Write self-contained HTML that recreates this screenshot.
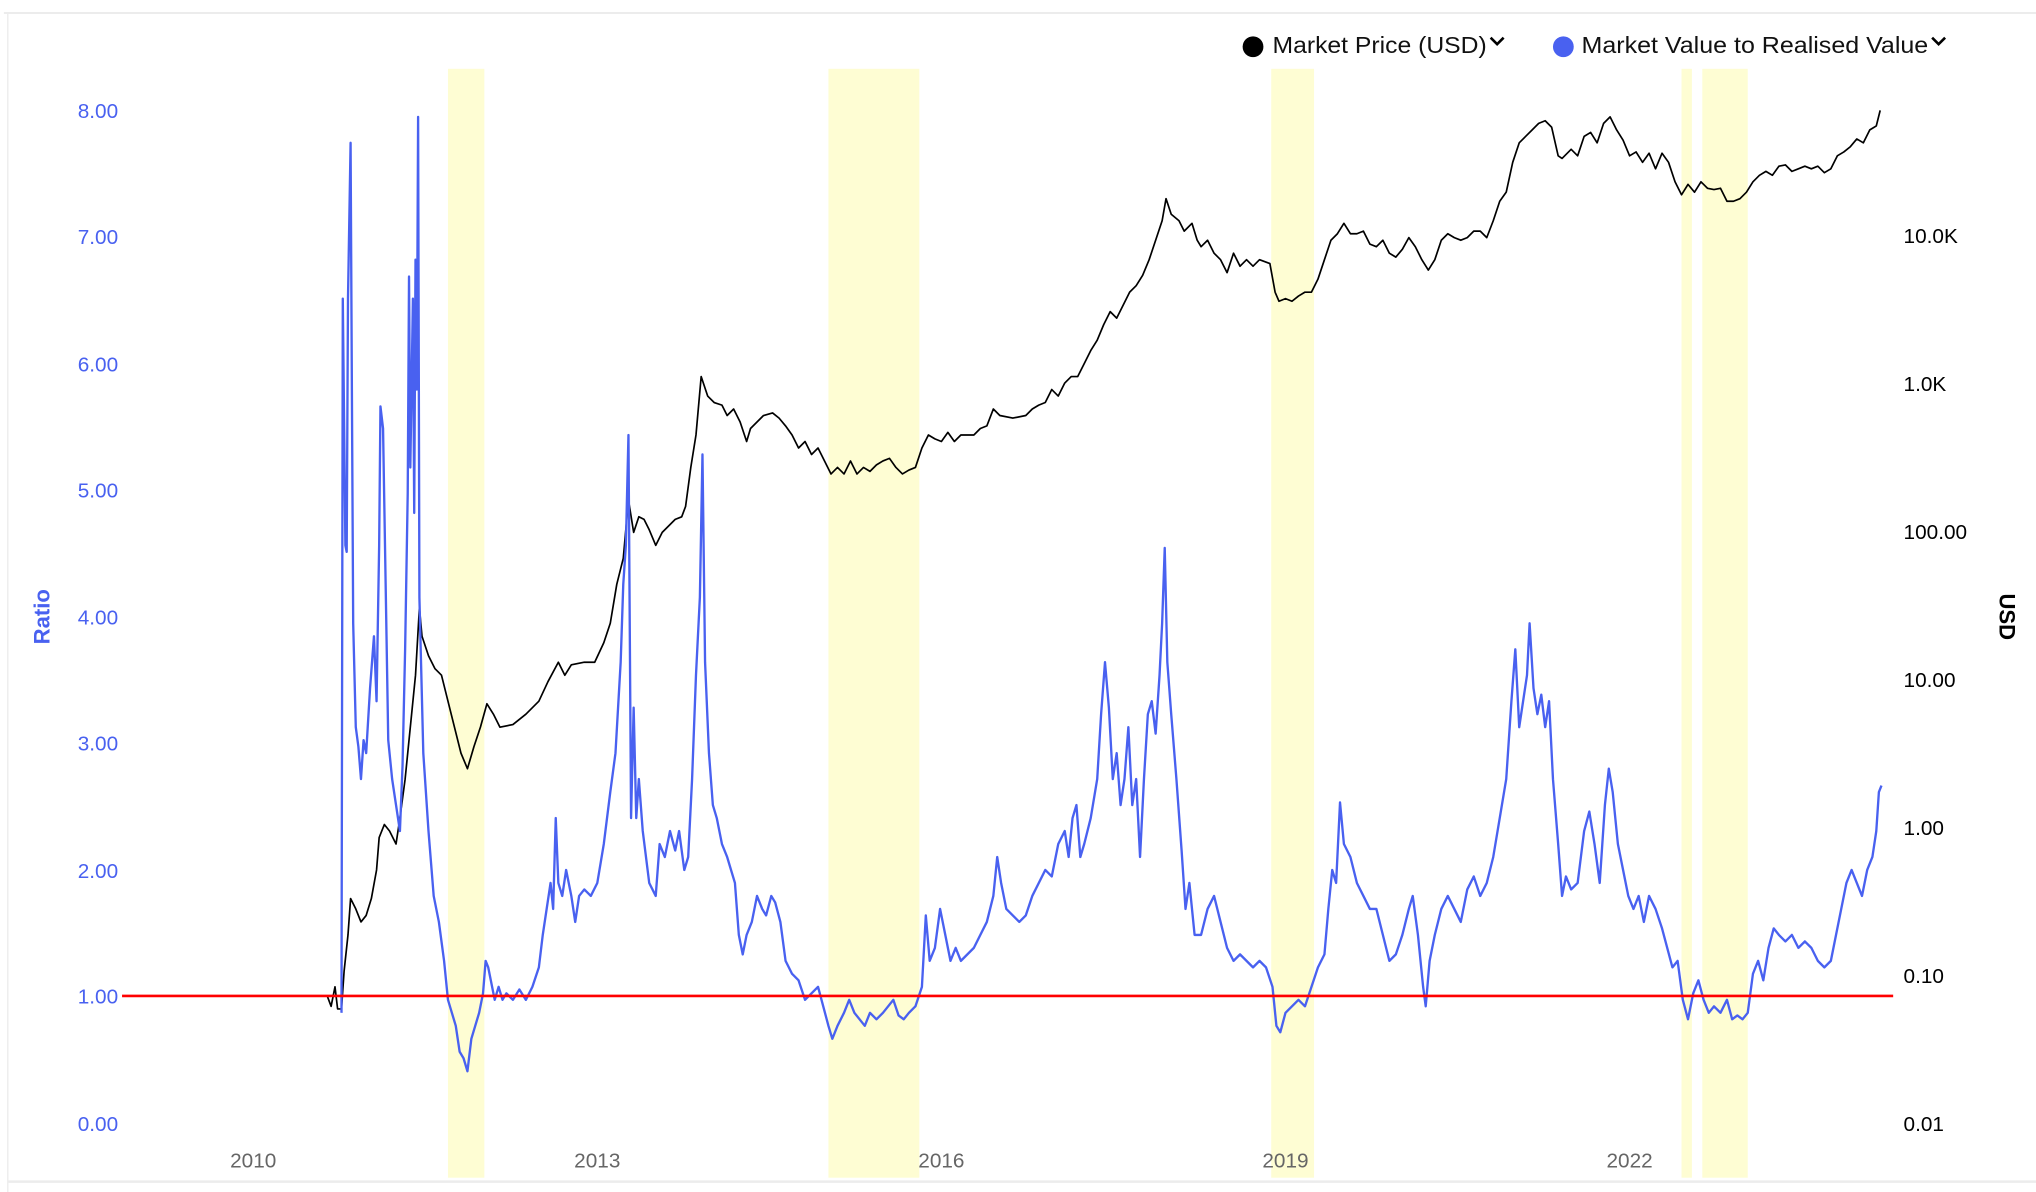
<!DOCTYPE html>
<html><head><meta charset="utf-8"><style>
html,body{margin:0;padding:0;background:#fff;}
svg{display:block;}
text{font-family:"Liberation Sans",sans-serif;}
</style></head><body>
<svg width="2036" height="1192" viewBox="0 0 1568 918" preserveAspectRatio="none" xmlns="http://www.w3.org/2000/svg">
<rect x="0" y="0" width="1568" height="918" fill="#fff"/>
<line x1="3" y1="10" x2="1568" y2="10" stroke="#ececec" stroke-width="1.5"/>
<line x1="6" y1="10" x2="6" y2="918" stroke="#ececec" stroke-width="1"/>
<line x1="6" y1="910" x2="1568" y2="910" stroke="#ececec" stroke-width="2"/>
<g fill="#fefdd3">
<rect x="345" y="53" width="28" height="854"/>
<rect x="638" y="53" width="70" height="854"/>
<rect x="979" y="53" width="33" height="854"/>
<rect x="1295" y="53" width="8" height="854"/>
<rect x="1311" y="53" width="35" height="854"/>
</g>
<g font-size="16" fill="#4961f0" text-anchor="end">
<text x="91" y="91">8.00</text><text x="91" y="188">7.00</text><text x="91" y="286">6.00</text><text x="91" y="383">5.00</text><text x="91" y="481">4.00</text><text x="91" y="578">3.00</text><text x="91" y="676">2.00</text><text x="91" y="773">1.00</text><text x="91" y="871">0.00</text>
</g>
<g font-size="16" fill="#000">
<text x="1466" y="187">10.0K</text><text x="1466" y="301">1.0K</text><text x="1466" y="415">100.00</text><text x="1466" y="529">10.00</text><text x="1466" y="643">1.00</text><text x="1466" y="757">0.10</text><text x="1466" y="871">0.01</text>
</g>
<g font-size="16" fill="#666" text-anchor="middle">
<text x="195" y="899">2010</text><text x="460" y="899">2013</text><text x="725" y="899">2016</text><text x="990" y="899">2019</text><text x="1255" y="899">2022</text>
</g>
<text transform="translate(38,475) rotate(-90)" font-size="17" font-weight="bold" fill="#4961f0" text-anchor="middle">Ratio</text>
<text transform="translate(1540,475) rotate(90)" font-size="17" font-weight="bold" fill="#000" text-anchor="middle">USD</text>
<circle cx="965" cy="36" r="8" fill="#000"/>
<text x="980" y="41" font-size="17.5" fill="#111" textLength="165" lengthAdjust="spacingAndGlyphs">Market Price (USD)</text>
<path d="M1148 29 l5 5 l5 -5" stroke="#000" stroke-width="2" fill="none"/>
<circle cx="1204" cy="36" r="8" fill="#4961f0"/>
<text x="1218" y="41" font-size="17.5" fill="#111" textLength="267" lengthAdjust="spacingAndGlyphs">Market Value to Realised Value</text>
<path d="M1488 29 l5 5 l5 -5" stroke="#000" stroke-width="2" fill="none"/>
<polyline fill="none" stroke="#000" stroke-width="1.3" stroke-linejoin="round" points="252,767 255,775 258,760 260,777 263,777 265,748 268,720 270,692 274,700 278,710 282,705 286,692 290,670 292,645 296,635 300,640 305,650 308,630 312,600 316,560 320,520 323,468 325,490 330,505 335,515 340,520 345,540 350,560 355,580 360,592 365,575 370,560 375,542 380,550 385,560 395,558 405,550 415,540 422,525 430,510 435,520 440,512 450,510 458,510 465,495 470,480 475,450 480,430 484,385 488,410 492,398 496,400 500,408 505,420 510,410 515,405 520,400 525,398 528,390 532,360 536,335 540,290 545,305 550,310 556,312 560,320 565,315 570,325 575,340 578,330 583,325 588,320 595,318 600,322 605,328 610,335 615,345 620,340 625,350 630,345 635,355 640,365 645,360 650,365 655,355 660,365 665,360 670,363 675,358 680,355 685,353 690,360 695,365 700,362 705,360 710,345 715,335 720,338 725,340 730,333 735,340 740,335 750,335 755,330 760,328 765,315 770,320 780,322 790,320 795,315 800,312 805,310 810,300 815,305 820,295 825,290 830,290 835,280 840,270 845,262 850,250 855,240 860,245 865,235 870,225 875,220 880,212 885,200 890,185 895,170 898,153 902,165 908,170 912,178 918,172 922,185 925,190 930,185 935,195 940,200 945,210 950,195 955,205 960,200 965,205 970,200 978,203 982,225 985,232 990,230 995,232 1000,228 1005,225 1010,225 1015,215 1020,200 1025,185 1030,180 1035,172 1040,180 1045,180 1050,178 1055,188 1060,190 1065,185 1070,195 1075,198 1080,192 1085,183 1090,190 1095,200 1100,208 1105,200 1110,185 1115,180 1120,183 1125,185 1130,183 1135,178 1140,178 1145,183 1150,170 1155,155 1160,148 1165,125 1170,110 1175,105 1180,100 1185,95 1190,93 1195,98 1200,120 1203,122 1210,115 1215,120 1220,105 1225,102 1230,110 1235,95 1240,90 1245,100 1250,108 1255,120 1260,117 1265,125 1270,118 1275,130 1280,118 1285,125 1290,140 1295,150 1300,142 1305,148 1310,140 1315,145 1320,146 1325,145 1330,155 1335,155 1340,153 1345,148 1350,140 1355,135 1360,132 1365,135 1370,128 1375,127 1380,132 1385,130 1390,128 1395,130 1400,128 1405,133 1410,130 1415,120 1420,117 1425,113 1430,107 1435,110 1440,100 1445,97 1448,85"/>
<polyline fill="none" stroke="#4961f0" stroke-width="1.8" stroke-linejoin="round" points="263,780 264,230 266,420 267,425 268,230 270,110 271,300 272,480 274,560 276,575 278,600 280,570 282,580 285,530 288,490 290,540 292,420 293,313 295,330 297,450 299,570 302,600 305,620 308,640 310,590 312,500 314,380 315,213 316,360 318,230 319,395 320,200 321,300 322,90 323,460 326,580 330,640 334,690 338,710 342,740 345,770 348,780 351,790 354,810 357,815 360,825 363,800 366,790 369,780 372,765 374,740 376,745 378,755 381,770 384,760 387,770 390,765 395,770 400,762 405,770 410,760 415,745 418,720 421,700 424,680 426,700 428,630 430,680 433,690 436,670 440,690 443,710 446,690 450,685 455,690 460,680 465,650 470,610 474,580 478,510 480,450 482,420 484,335 486,630 488,545 490,630 492,600 495,640 500,680 505,690 508,650 512,660 516,640 520,655 523,640 527,670 530,660 533,600 536,520 539,460 541,350 543,510 546,580 549,620 552,630 556,650 560,660 563,670 566,680 569,720 572,735 575,720 579,710 583,690 587,700 590,705 594,690 597,695 601,710 605,740 610,750 615,755 620,770 625,765 630,760 634,775 638,790 641,800 645,790 650,780 654,770 658,780 662,785 666,790 670,780 675,785 680,780 684,775 688,770 692,782 696,785 700,780 705,775 710,760 713,705 716,740 720,730 724,700 728,720 732,740 736,730 740,740 745,735 750,730 755,720 760,710 765,690 768,660 771,680 775,700 780,705 785,710 790,705 795,690 800,680 805,670 810,675 815,650 820,640 823,660 826,630 829,620 832,660 835,650 840,630 845,600 848,550 851,510 854,545 857,600 860,580 863,620 866,600 869,560 872,620 875,600 878,660 881,600 884,550 887,540 890,565 893,520 895,480 897,422 899,510 902,550 906,600 910,655 913,700 916,680 920,720 925,720 930,700 935,690 940,710 945,730 950,740 955,735 960,740 965,745 970,740 975,745 980,760 983,790 986,795 990,780 995,775 1000,770 1005,775 1010,760 1015,745 1020,735 1023,700 1026,670 1029,680 1032,618 1035,650 1040,660 1045,680 1050,690 1055,700 1060,700 1065,720 1070,740 1075,735 1080,720 1085,700 1088,690 1092,720 1096,760 1098,775 1101,740 1105,720 1110,700 1115,690 1120,700 1125,710 1130,685 1135,675 1140,690 1145,680 1150,660 1155,630 1160,600 1164,540 1167,500 1170,560 1173,540 1176,520 1178,480 1181,530 1184,550 1187,535 1190,560 1193,540 1196,600 1200,650 1203,690 1206,675 1210,685 1215,680 1220,640 1224,625 1228,650 1232,680 1236,620 1239,592 1242,610 1246,650 1250,670 1254,690 1258,700 1262,690 1266,710 1270,690 1275,700 1280,715 1284,730 1288,745 1292,740 1296,770 1300,785 1304,765 1308,755 1312,770 1316,780 1320,775 1325,780 1330,770 1334,785 1338,782 1342,785 1346,780 1350,750 1354,740 1358,755 1362,730 1366,715 1370,720 1375,725 1380,720 1385,730 1390,725 1395,730 1400,740 1405,745 1410,740 1414,720 1418,700 1422,680 1426,670 1430,680 1434,690 1438,670 1442,660 1445,640 1447,610 1449,605"/>
<line x1="94" y1="767" x2="1458" y2="767" stroke="#ff0000" stroke-width="2"/>
</svg>
</body></html>
